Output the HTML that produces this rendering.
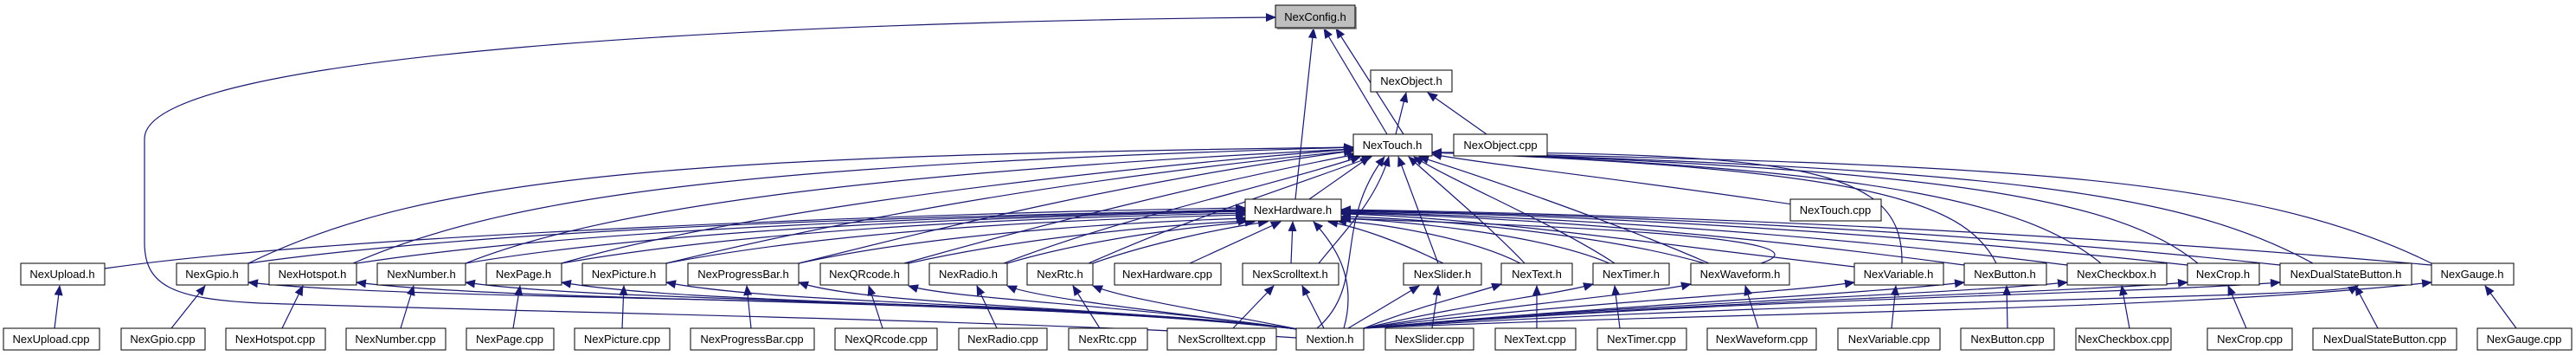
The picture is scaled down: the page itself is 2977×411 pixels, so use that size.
<!DOCTYPE html>
<html><head><meta charset="utf-8"><style>
html,body{margin:0;padding:0;background:#fff;width:2977px;height:411px;overflow:hidden}
svg{display:block}
text{font-family:"Liberation Sans",sans-serif;font-size:13px;fill:#000}
.e{fill:none;stroke:#191970;stroke-width:1.2}
</style></head><body>
<svg width="2977" height="411" viewBox="0 0 2977 411" xmlns="http://www.w3.org/2000/svg">
<defs><marker id="a" markerUnits="userSpaceOnUse" markerWidth="12" markerHeight="10" refX="11" refY="5" orient="auto"><path d="M0,0 L12,5 L0,10 z" fill="#191970"/></marker></defs>
<g class="e" marker-end="url(#a)">
<!-- to NexConfig -->
<path d="M1622 155 L1544 33"/>
<path d="M1603 155 L1530 33"/>
<path d="M1497 230 L1518 33"/>
<path d="M1498 390 C1200 370 600 360 300 350 C200 345 167 330 167 280 L167 160 C167 60 900 25 1474 20"/>
<!-- to NexObject -->
<path d="M1613 155 L1625 107"/>
<path d="M1718 155 L1650 107"/>
<!-- to NexTouch -->
<path d="M1513 230 L1583 181"/>
<path d="M2085 238 C1900 210 1720 190 1655 178"/>
<path d="M1522 379 C1580 330 1540 260 1600 181"/>
<path d="M1524 304 C1560 260 1590 230 1605 181"/>
<path d="M1662 304 L1616 181"/>
<path d="M1762 304 C1720 260 1660 210 1628 181"/>
<path d="M1866 304 C1800 260 1680 210 1634 181"/>
<path d="M1975 304 C1850 250 1700 200 1640 181"/>
<path d="M2198 304 C2200 200 2100 175 1655 176"/>
<path d="M2307 304 C2270 230 2150 195 1655 176"/>
<path d="M2428 304 C2350 240 2200 195 1655 176"/>
<path d="M2540 304 C2450 230 2250 195 1655 176"/>
<path d="M2673 304 C2520 220 2300 195 1655 176"/>
<path d="M2810 304 C2600 200 2300 190 1655 176"/>
<path d="M287 304 C500 200 800 180 1564 170"/>
<path d="M408 304 C600 220 900 190 1564 170"/>
<path d="M538 304 C700 240 1000 200 1564 172"/>
<path d="M649 304 C800 260 1100 210 1564 172"/>
<path d="M770 304 C950 260 1200 210 1564 174"/>
<path d="M923 304 C1100 260 1300 210 1564 174"/>
<path d="M1045 304 C1200 260 1400 210 1568 178"/>
<path d="M1160 304 C1300 250 1450 220 1572 181"/>
<path d="M1258 304 C1380 250 1480 220 1585 181"/>
<!-- to NexHardware -->
<path d="M121 310 C400 270 1100 245 1439 240"/>
<path d="M287 304 C600 260 1100 250 1439 242"/>
<path d="M412 304 C700 260 1150 250 1439 243"/>
<path d="M538 304 C800 260 1200 250 1439 244"/>
<path d="M649 304 C900 260 1250 250 1439 246"/>
<path d="M770 304 C1000 260 1300 252 1439 248"/>
<path d="M923 304 C1100 265 1350 255 1440 252"/>
<path d="M1050 304 C1200 270 1380 258 1442 255"/>
<path d="M1164 304 C1280 270 1420 258 1450 256"/>
<path d="M1263 304 C1330 280 1420 262 1465 256"/>
<path d="M1375 304 L1480 256"/>
<path d="M1492 304 L1494 256"/>
<path d="M1553 379 C1570 320 1540 280 1518 256"/>
<path d="M1668 304 C1620 280 1570 262 1535 256"/>
<path d="M1757 304 C1700 275 1600 258 1545 255"/>
<path d="M1860 304 C1780 270 1620 255 1550 252"/>
<path d="M1970 304 C1850 270 1650 252 1550 250"/>
<path d="M2143 308 C1900 280 1700 250 1550 247"/>
<path d="M2270 306 C2000 270 1750 250 1550 246"/>
<path d="M2389 306 C2100 270 1800 250 1550 245"/>
<path d="M2528 306 C2200 270 1850 248 1550 244"/>
<path d="M2635 306 C2300 270 1900 248 1550 243"/>
<path d="M2810 306 C2400 270 1950 248 1550 242"/>
<path d="M2035 304 C2140 270 1700 258 1550 252"/>
<!-- Nextion to left widgets -->
<path d="M1500 380 C1200 340 500 350 287 326"/>
<path d="M1500 380 C1200 345 600 350 412 326"/>
<path d="M1500 380 C1200 345 700 350 538 326"/>
<path d="M1500 380 C1200 348 800 352 649 326"/>
<path d="M1500 380 C1250 350 900 352 770 326"/>
<path d="M1500 380 C1250 352 1000 352 923 326"/>
<path d="M1500 380 C1300 352 1100 345 1050 330"/>
<path d="M1500 380 C1350 360 1200 345 1164 330"/>
<path d="M1500 380 C1400 360 1300 345 1263 330"/>
<path d="M1530 379 L1505 330"/>
<!-- Nextion to right widgets -->
<path d="M1558 379 L1640 330"/>
<path d="M1576 379 C1650 350 1700 340 1735 328"/>
<path d="M1576 379 C1700 350 1800 340 1841 328"/>
<path d="M1576 379 C1750 350 1900 340 1954 328"/>
<path d="M1576 379 C1800 350 2050 340 2143 326"/>
<path d="M1576 379 C1900 350 2150 340 2270 326"/>
<path d="M1576 379 C1900 350 2250 340 2389 326"/>
<path d="M1576 379 C2000 345 2350 340 2528 326"/>
<path d="M1576 379 C2000 345 2450 340 2635 326"/>
<path d="M1576 379 C2000 360 2500 360 2810 326"/>
<path d="M1576 379 C2100 345 2700 345 2725 330"/>
<!-- cpp to h -->
<path d="M63 379 L69 330"/>
<path d="M198 379 L237 330"/>
<path d="M326 379 L350 330"/>
<path d="M463 379 L478 330"/>
<path d="M593 379 L601 330"/>
<path d="M719 379 L721 330"/>
<path d="M868 379 L863 330"/>
<path d="M1020 379 L1004 330"/>
<path d="M1152 379 L1129 330"/>
<path d="M1271 379 L1240 330"/>
<path d="M1425 379 L1472 330"/>
<path d="M1655 379 L1662 330"/>
<path d="M1776 379 L1776 330"/>
<path d="M1872 379 L1866 330"/>
<path d="M2032 379 L2017 330"/>
<path d="M2186 379 L2191 330"/>
<path d="M2320 379 L2319 330"/>
<path d="M2461 379 L2452 330"/>
<path d="M2596 379 L2575 330"/>
<path d="M2748 379 L2722 330"/>
<path d="M2908 379 L2872 330"/>
</g>
<g stroke="#000" stroke-width="1">
<g fill="#999" stroke="none">
<rect x="1476" y="8" width="92" height="26"/>
</g>
<rect x="1474" y="6" width="92" height="26" fill="#bfbfbf"/>
</g>
<text x="1520" y="24" text-anchor="middle">NexConfig.h</text>
<g fill="#fff" stroke="#000" stroke-width="1">
<rect x="1584" y="81" width="94" height="25"/>
<rect x="1564" y="155" width="91" height="25"/>
<rect x="1680" y="155" width="108" height="25"/>
<rect x="1439" y="230" width="111" height="25"/>
<rect x="2069" y="230" width="105" height="25"/>
<rect x="24" y="304" width="97" height="25"/>
<rect x="204" y="304" width="83" height="25"/>
<rect x="311" y="304" width="101" height="25"/>
<rect x="436" y="304" width="102" height="25"/>
<rect x="562" y="304" width="87" height="25"/>
<rect x="673" y="304" width="97" height="25"/>
<rect x="795" y="304" width="128" height="25"/>
<rect x="948" y="304" width="102" height="25"/>
<rect x="1074" y="304" width="90" height="25"/>
<rect x="1187" y="304" width="76" height="25"/>
<rect x="1288" y="304" width="123" height="25"/>
<rect x="1436" y="304" width="111" height="25"/>
<rect x="1622" y="304" width="90" height="25"/>
<rect x="1735" y="304" width="82" height="25"/>
<rect x="1841" y="304" width="88" height="25"/>
<rect x="1954" y="304" width="114" height="25"/>
<rect x="2143" y="304" width="103" height="25"/>
<rect x="2270" y="304" width="95" height="25"/>
<rect x="2389" y="304" width="115" height="25"/>
<rect x="2528" y="304" width="83" height="25"/>
<rect x="2635" y="304" width="152" height="25"/>
<rect x="2810" y="304" width="95" height="25"/>
<rect x="4" y="379" width="111" height="25"/>
<rect x="140" y="379" width="97" height="25"/>
<rect x="261" y="379" width="115" height="25"/>
<rect x="400" y="379" width="115" height="25"/>
<rect x="539" y="379" width="101" height="25"/>
<rect x="664" y="379" width="110" height="25"/>
<rect x="798" y="379" width="143" height="25"/>
<rect x="965" y="379" width="118" height="25"/>
<rect x="1108" y="379" width="102" height="25"/>
<rect x="1235" y="379" width="91" height="25"/>
<rect x="1349" y="379" width="126" height="25"/>
<rect x="1498" y="379" width="78" height="25"/>
<rect x="1601" y="379" width="102" height="25"/>
<rect x="1728" y="379" width="93" height="25"/>
<rect x="1846" y="379" width="103" height="25"/>
<rect x="1973" y="379" width="126" height="25"/>
<rect x="2124" y="379" width="118" height="25"/>
<rect x="2266" y="379" width="108" height="25"/>
<rect x="2399" y="379" width="110" height="25"/>
<rect x="2551" y="379" width="98" height="25"/>
<rect x="2673" y="379" width="166" height="25"/>
<rect x="2863" y="379" width="109" height="25"/>
</g>
<g text-anchor="middle">
<text x="1631" y="98">NexObject.h</text>
<text x="1609" y="172">NexTouch.h</text>
<text x="1734" y="172">NexObject.cpp</text>
<text x="1494" y="247">NexHardware.h</text>
<text x="2121" y="247">NexTouch.cpp</text>
<text x="72" y="321">NexUpload.h</text>
<text x="245" y="321">NexGpio.h</text>
<text x="361" y="321">NexHotspot.h</text>
<text x="487" y="321">NexNumber.h</text>
<text x="605" y="321">NexPage.h</text>
<text x="721" y="321">NexPicture.h</text>
<text x="859" y="321">NexProgressBar.h</text>
<text x="999" y="321">NexQRcode.h</text>
<text x="1119" y="321">NexRadio.h</text>
<text x="1225" y="321">NexRtc.h</text>
<text x="1349" y="321">NexHardware.cpp</text>
<text x="1491" y="321">NexScrolltext.h</text>
<text x="1667" y="321">NexSlider.h</text>
<text x="1776" y="321">NexText.h</text>
<text x="1885" y="321">NexTimer.h</text>
<text x="2011" y="321">NexWaveform.h</text>
<text x="2194" y="321">NexVariable.h</text>
<text x="2317" y="321">NexButton.h</text>
<text x="2446" y="321">NexCheckbox.h</text>
<text x="2569" y="321">NexCrop.h</text>
<text x="2711" y="321">NexDualStateButton.h</text>
<text x="2857" y="321">NexGauge.h</text>
<text x="59" y="396">NexUpload.cpp</text>
<text x="188" y="396">NexGpio.cpp</text>
<text x="318" y="396">NexHotspot.cpp</text>
<text x="457" y="396">NexNumber.cpp</text>
<text x="589" y="396">NexPage.cpp</text>
<text x="719" y="396">NexPicture.cpp</text>
<text x="869" y="396">NexProgressBar.cpp</text>
<text x="1024" y="396">NexQRcode.cpp</text>
<text x="1159" y="396">NexRadio.cpp</text>
<text x="1280" y="396">NexRtc.cpp</text>
<text x="1412" y="396">NexScrolltext.cpp</text>
<text x="1537" y="396">Nextion.h</text>
<text x="1652" y="396">NexSlider.cpp</text>
<text x="1774" y="396">NexText.cpp</text>
<text x="1897" y="396">NexTimer.cpp</text>
<text x="2036" y="396">NexWaveform.cpp</text>
<text x="2183" y="396">NexVariable.cpp</text>
<text x="2320" y="396">NexButton.cpp</text>
<text x="2454" y="396">NexCheckbox.cpp</text>
<text x="2600" y="396">NexCrop.cpp</text>
<text x="2756" y="396">NexDualStateButton.cpp</text>
<text x="2917" y="396">NexGauge.cpp</text>
</g>
</svg>
</body></html>
